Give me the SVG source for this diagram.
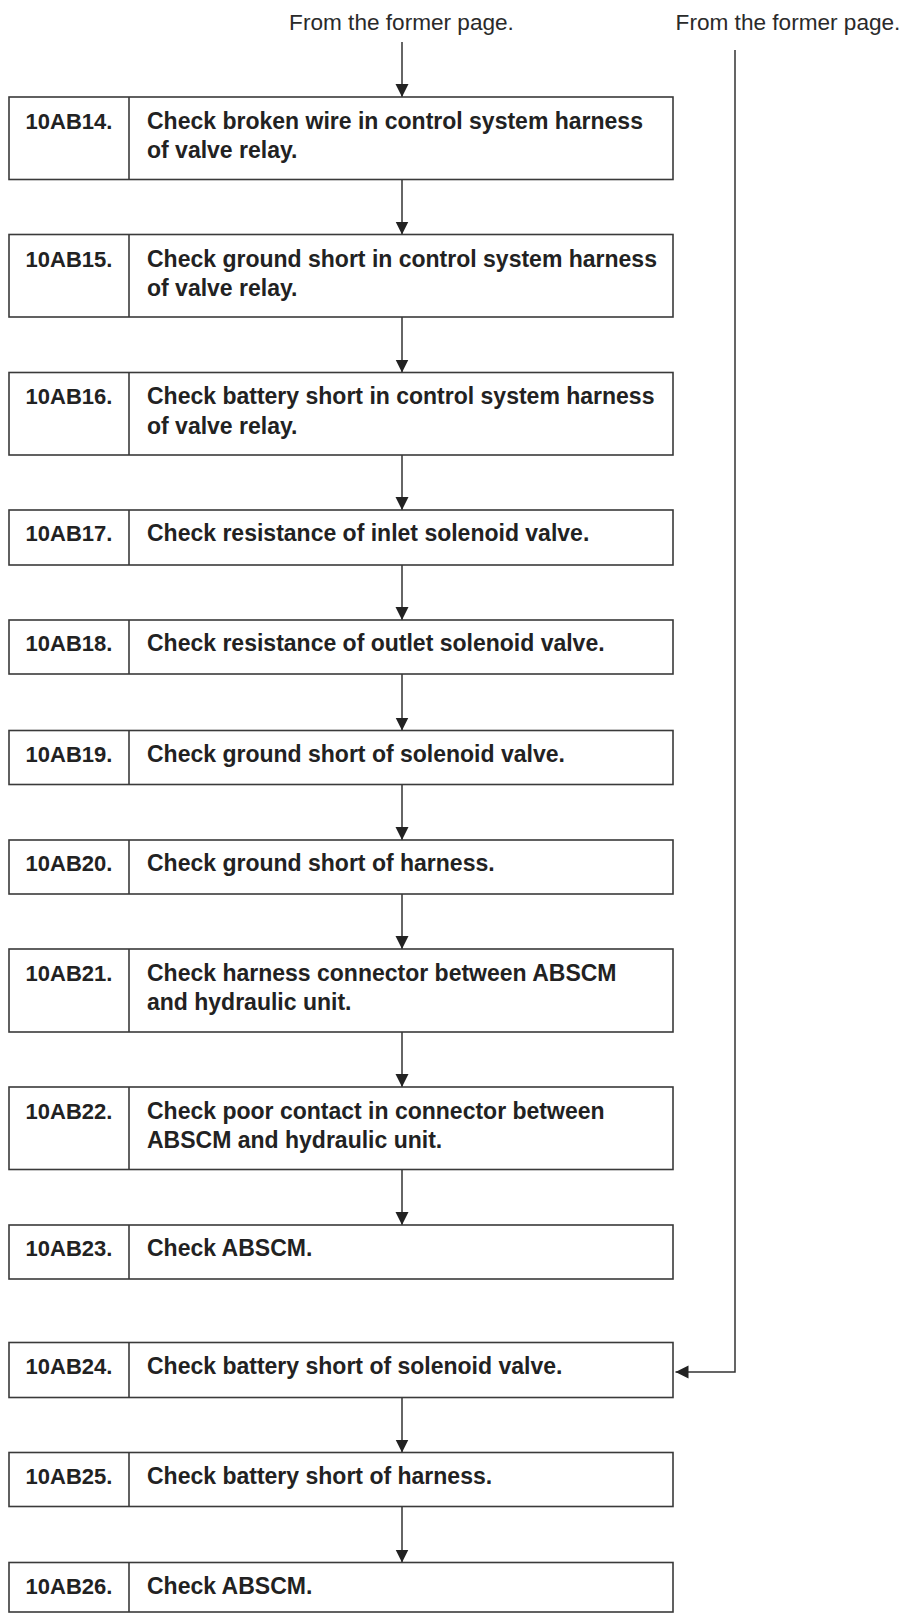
<svg xmlns="http://www.w3.org/2000/svg" width="903" height="1613" viewBox="0 0 903 1613">
  <style>
    .box { fill: #ffffff; stroke: #3a3a3a; stroke-width: 1.6; }
    .div { stroke: #3a3a3a; stroke-width: 1.6; }
    .code { font-family: "Liberation Sans", Arial, sans-serif; font-weight: bold; font-size: 22px; fill: #222222; text-anchor: middle; }
    .txt { font-family: "Liberation Sans", Arial, sans-serif; font-weight: bold; font-size: 23px; fill: #222222; }
    .note { font-family: "Liberation Sans", Arial, sans-serif; font-size: 22.6px; fill: #2a2a2a; text-anchor: middle; }
    .wire { fill: none; stroke: #333333; stroke-width: 1.5; }
  </style>
  <defs>
    <marker id="arrow" markerUnits="userSpaceOnUse" markerWidth="14" markerHeight="14" viewBox="0 0 14 14" refX="13" refY="7" orient="auto">
      <path d="M0,0.5 L13,7 L0,13.5 Z" fill="#222222"/>
    </marker>
  </defs>

  <rect width="903" height="1613" fill="#ffffff"/>

  <!-- entry labels -->
  <text class="note" x="401.5" y="30">From the former page.</text>
  <text class="note" x="788" y="30">From the former page.</text>

  <!-- connectors -->
  <g id="connectors">
    <line class="wire" x1="402" y1="42" x2="402" y2="97" marker-end="url(#arrow)"/>
    <line class="wire" x1="402" y1="179.5" x2="402" y2="234.5" marker-end="url(#arrow)"/>
    <line class="wire" x1="402" y1="317" x2="402" y2="372.5" marker-end="url(#arrow)"/>
    <line class="wire" x1="402" y1="455" x2="402" y2="510" marker-end="url(#arrow)"/>
    <line class="wire" x1="402" y1="565" x2="402" y2="620" marker-end="url(#arrow)"/>
    <line class="wire" x1="402" y1="674" x2="402" y2="730.5" marker-end="url(#arrow)"/>
    <line class="wire" x1="402" y1="784.5" x2="402" y2="840" marker-end="url(#arrow)"/>
    <line class="wire" x1="402" y1="894" x2="402" y2="949" marker-end="url(#arrow)"/>
    <line class="wire" x1="402" y1="1032" x2="402" y2="1087" marker-end="url(#arrow)"/>
    <line class="wire" x1="402" y1="1169.5" x2="402" y2="1225" marker-end="url(#arrow)"/>
    <line class="wire" x1="402" y1="1397.5" x2="402" y2="1452.5" marker-end="url(#arrow)"/>
    <line class="wire" x1="402" y1="1506.5" x2="402" y2="1562.5" marker-end="url(#arrow)"/>
    <polyline class="wire" points="735,50 735,1372 675.5,1372" marker-end="url(#arrow)"/>
  </g>

  <g id="n10AB14">
    <rect class="box" x="9" y="97" width="664" height="82.5"/>
    <line class="div" x1="129" y1="97" x2="129" y2="179.5"/>
    <text class="code" x="69" y="128.5">10AB14.</text>
    <text class="txt" x="147" y="128.5">Check broken wire in control system harness</text>
    <text class="txt" x="147" y="158">of valve relay.</text>
  </g>

  <g id="n10AB15">
    <rect class="box" x="9" y="234.5" width="664" height="82.5"/>
    <line class="div" x1="129" y1="234.5" x2="129" y2="317"/>
    <text class="code" x="69" y="266.5">10AB15.</text>
    <text class="txt" x="147" y="266.5">Check ground short in control system harness</text>
    <text class="txt" x="147" y="296">of valve relay.</text>
  </g>

  <g id="n10AB16">
    <rect class="box" x="9" y="372.5" width="664" height="82.5"/>
    <line class="div" x1="129" y1="372.5" x2="129" y2="455"/>
    <text class="code" x="69" y="404">10AB16.</text>
    <text class="txt" x="147" y="404">Check battery short in control system harness</text>
    <text class="txt" x="147" y="433.5">of valve relay.</text>
  </g>

  <g id="n10AB17">
    <rect class="box" x="9" y="510" width="664" height="55"/>
    <line class="div" x1="129" y1="510" x2="129" y2="565"/>
    <text class="code" x="69" y="541">10AB17.</text>
    <text class="txt" x="147" y="541">Check resistance of inlet solenoid valve.</text>
  </g>

  <g id="n10AB18">
    <rect class="box" x="9" y="620" width="664" height="54"/>
    <line class="div" x1="129" y1="620" x2="129" y2="674"/>
    <text class="code" x="69" y="651">10AB18.</text>
    <text class="txt" x="147" y="651">Check resistance of outlet solenoid valve.</text>
  </g>

  <g id="n10AB19">
    <rect class="box" x="9" y="730.5" width="664" height="54"/>
    <line class="div" x1="129" y1="730.5" x2="129" y2="784.5"/>
    <text class="code" x="69" y="761.5">10AB19.</text>
    <text class="txt" x="147" y="761.5">Check ground short of solenoid valve.</text>
  </g>

  <g id="n10AB20">
    <rect class="box" x="9" y="840" width="664" height="54"/>
    <line class="div" x1="129" y1="840" x2="129" y2="894"/>
    <text class="code" x="69" y="871">10AB20.</text>
    <text class="txt" x="147" y="871">Check ground short of harness.</text>
  </g>

  <g id="n10AB21">
    <rect class="box" x="9" y="949" width="664" height="83"/>
    <line class="div" x1="129" y1="949" x2="129" y2="1032"/>
    <text class="code" x="69" y="980.5">10AB21.</text>
    <text class="txt" x="147" y="980.5">Check harness connector between ABSCM</text>
    <text class="txt" x="147" y="1010">and hydraulic unit.</text>
  </g>

  <g id="n10AB22">
    <rect class="box" x="9" y="1087" width="664" height="82.5"/>
    <line class="div" x1="129" y1="1087" x2="129" y2="1169.5"/>
    <text class="code" x="69" y="1118.5">10AB22.</text>
    <text class="txt" x="147" y="1118.5">Check poor contact in connector between</text>
    <text class="txt" x="147" y="1148">ABSCM and hydraulic unit.</text>
  </g>

  <g id="n10AB23">
    <rect class="box" x="9" y="1225" width="664" height="54"/>
    <line class="div" x1="129" y1="1225" x2="129" y2="1279"/>
    <text class="code" x="69" y="1256">10AB23.</text>
    <text class="txt" x="147" y="1256">Check ABSCM.</text>
  </g>

  <g id="n10AB24">
    <rect class="box" x="9" y="1342.5" width="664" height="55"/>
    <line class="div" x1="129" y1="1342.5" x2="129" y2="1397.5"/>
    <text class="code" x="69" y="1373.5">10AB24.</text>
    <text class="txt" x="147" y="1373.5">Check battery short of solenoid valve.</text>
  </g>

  <g id="n10AB25">
    <rect class="box" x="9" y="1452.5" width="664" height="54"/>
    <line class="div" x1="129" y1="1452.5" x2="129" y2="1506.5"/>
    <text class="code" x="69" y="1483.5">10AB25.</text>
    <text class="txt" x="147" y="1483.5">Check battery short of harness.</text>
  </g>

  <g id="n10AB26">
    <rect class="box" x="9" y="1562.5" width="664" height="49.5"/>
    <line class="div" x1="129" y1="1562.5" x2="129" y2="1612"/>
    <text class="code" x="69" y="1593.5">10AB26.</text>
    <text class="txt" x="147" y="1593.5">Check ABSCM.</text>
  </g>
</svg>
